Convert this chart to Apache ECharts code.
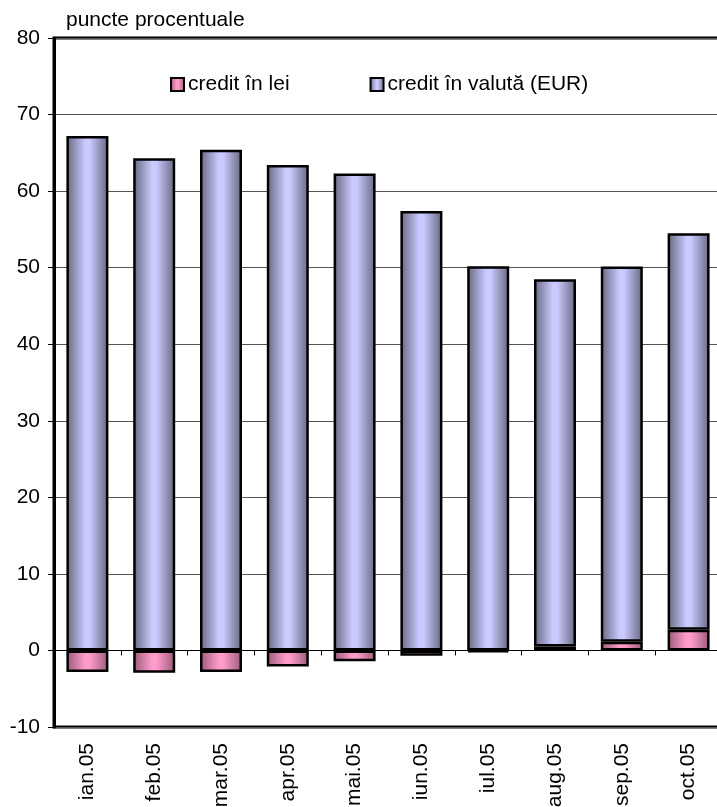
<!DOCTYPE html>
<html>
<head>
<meta charset="utf-8">
<script src="https://cdn.jsdelivr.net/npm/echarts@6/dist/echarts.min.js"></script>
<style>
  html, body { margin: 0; padding: 0; background: #fff; }
  #chart { width: 717px; height: 807px; }
</style>
</head>
<body>
<div id="chart"></div>
<script>
// luni
var categories = ['ian.05', 'feb.05', 'mar.05', 'apr.05', 'mai.05', 'iun.05', 'iul.05', 'aug.05', 'sep.05', 'oct.05'];
// contributii, puncte procentuale
var creditLei = [-2.8, -2.9, -2.8, -2.1, -1.4, -0.7, -0.2, 0.5, 1.15, 2.7];
var creditValuta = [67.2, 64.3, 65.4, 63.4, 62.3, 57.4, 50.2, 48.0, 49.0, 51.8];
var yTicks = [-10, 0, 10, 20, 30, 40, 50, 60, 70, 80];

var font = '"Liberation Sans", Arial, sans-serif';

function cyl(dark, light) {
  return new echarts.graphic.LinearGradient(0, 0, 1, 0, [
    { offset: 0, color: dark },
    { offset: 0.45, color: light },
    { offset: 0.55, color: light },
    { offset: 1, color: dark }
  ]);
}

var myChart = echarts.init(document.getElementById('chart'));
var option = {
  animation: false,
  textStyle: { fontFamily: font },
  title: {
    text: 'puncte procentuale',
    left: 66, top: 10,
    padding: 0,
    textStyle: { fontFamily: font, fontSize: 21, fontWeight: 'normal', color: '#000' }
  },
  legend: {
    left: 170, top: 74,
    padding: 0,
    icon: 'rect',
    itemWidth: 13, itemHeight: 13,
    itemGap: 80,
    textStyle: { fontFamily: font, fontSize: 21, color: '#000', padding: [0, 0, 0, -1] },
    data: ['credit în lei', 'credit în valută (EUR)']
  },
  grid: {
    left: 54, top: 38, right: -5, bottom: 80,
    containLabel: false,
    outerBoundsMode: 'none',
    show: true, borderColor: '#000', borderWidth: 3
  },
  xAxis: [{
    // axa la zero, cu gradatii
    type: 'category',
    data: categories,
    position: 'bottom',
    axisLine: { onZero: true, lineStyle: { color: '#000', width: 1 } },
    axisTick: { show: true, alignWithLabel: false, length: 5, lineStyle: { color: '#000' } },
    axisLabel: { show: false }
  }, {
    // etichete jos
    type: 'category',
    data: categories,
    position: 'bottom',
    axisLine: { show: false, onZero: false },
    axisTick: { show: false },
    axisLabel: { rotate: 90, margin: 16, fontSize: 21, color: '#000', fontFamily: font, interval: 0 }
  }],
  yAxis: {
    type: 'value',
    min: yTicks[0], max: yTicks[yTicks.length - 1], interval: 10,
    axisLine: { show: true, lineStyle: { color: '#000', width: 3 } },
    axisTick: { show: true, length: 6, lineStyle: { color: '#000' } },
    axisLabel: { fontSize: 21, color: '#000', margin: 14, fontFamily: font },
    splitLine: { lineStyle: { color: '#555', width: 1 } }
  },
  series: [
    {
      name: 'credit în lei',
      type: 'bar',
      stack: 'total',
      barWidth: 42,
      data: creditLei,
      itemStyle: { color: cyl('#9a5a78', '#ff9ccc'), borderColor: '#000', borderWidth: 2.5 }
    },
    {
      name: 'credit în valută (EUR)',
      type: 'bar',
      stack: 'total',
      barWidth: 42,
      data: creditValuta,
      itemStyle: { color: cyl('#66667f', '#cacaff'), borderColor: '#000', borderWidth: 2.5 }
    }
  ]
};
myChart.setOption(option);
</script>
</body>
</html>
